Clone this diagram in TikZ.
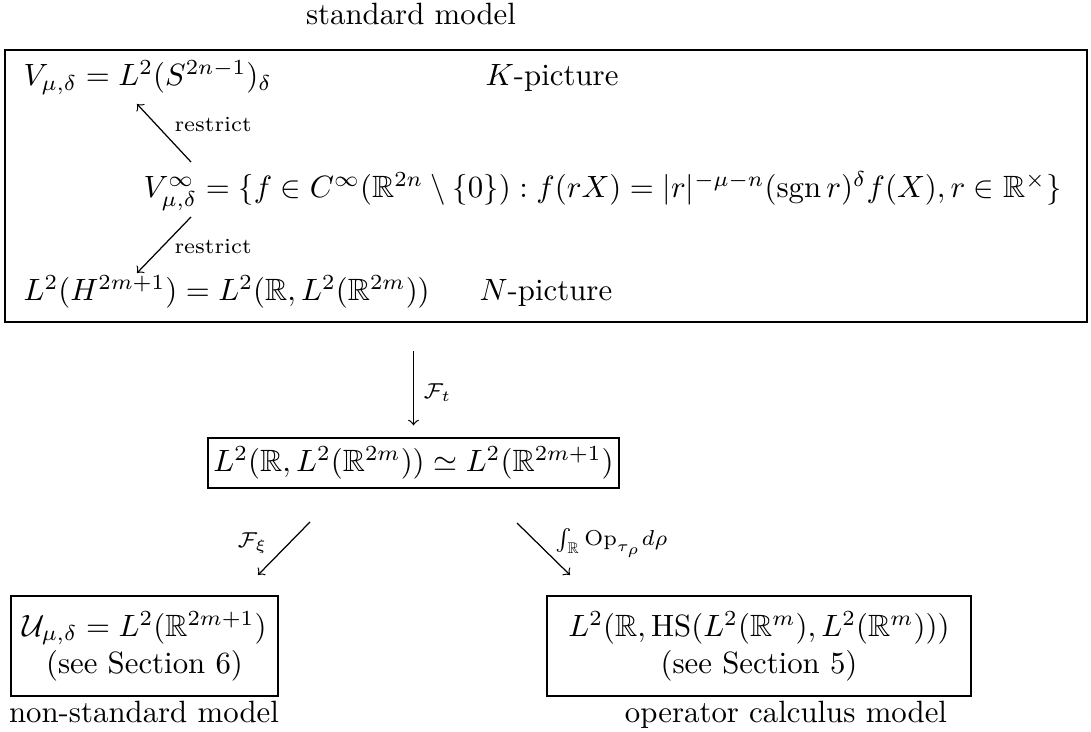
\documentclass[tikz,border=0pt]{standalone}
\usepackage{amsmath,amssymb}
\begin{document}
\begin{tikzpicture}[x=0.32466pt,y=-0.32466pt,
  txt/.style={inner sep=0pt, anchor=base west},
  boxed/.style={draw, inner sep=0pt, align=center},
  lbl/.style={inner sep=0pt, font=\scriptsize},
  arr/.style={->}]
\useasboundingbox (0,0) rectangle (1091,732);
% top label
\node[inner sep=0pt, anchor=base] (std) at (411,25) {standard model};
% big box
\node[draw, inner sep=0pt, minimum width=351.3pt, minimum height=88.3pt] (big) at (546,186) {};
\node[txt] (vk) at (23,86) {$V_{\mu,\delta}=L^2(S^{2n-1})_\delta$};
\node[txt] (kpic) at (485,86) {$K$-picture};
\node[txt] (vinf) at (143,198) {$V^\infty_{\mu,\delta}=\{f\in C^\infty(\mathbb{R}^{2n}\setminus\{0\}):f(rX)=|r|^{-\mu-n}(\operatorname{sgn}r)^\delta f(X), r\in\mathbb{R}^\times\}$};
\node[txt] (lh) at (23,301) {$L^2(H^{2m+1})=L^2(\mathbb{R},L^2(\mathbb{R}^{2m}))$};
\node[txt] (npic) at (479,301) {$N$-picture};
% restrict arrows
\coordinate (r1a) at (191,162);
\coordinate (r1b) at (137,104);
\coordinate (r2a) at (191,217);
\coordinate (r2b) at (137,273);
\draw[arr] (r1a) -- (r1b);
\node[lbl, anchor=west] (rl1) at (174,125) {restrict};
\draw[arr] (r2a) -- (r2b);
\node[lbl, anchor=west] (rl2) at (174,247) {restrict};
% middle box
\node[boxed, minimum width=133.4pt, minimum height=16.2pt] (mid) at (413.5,463)
  {$L^2(\mathbb{R},L^2(\mathbb{R}^{2m}))\simeq L^2(\mathbb{R}^{2m+1})$};
\coordinate (ft) at (413.5,351);
\draw[arr, shorten >=3.9pt] (ft) -- (mid.north);
\node[lbl, anchor=west] (ftl) at (423,393) {$\mathcal{F}_t$};
% bottom boxes
\node[boxed, minimum width=86.7pt, minimum height=32.5pt] (left) at (144.5,646)
  {$\mathcal{U}_{\mu,\delta}=L^2(\mathbb{R}^{2m+1})$\\(see Section 6)};
\node[boxed, minimum width=137.7pt, minimum height=32.5pt] (right) at (759,646)
  {$L^2(\mathbb{R},\mathrm{HS}(L^2(\mathbb{R}^m),L^2(\mathbb{R}^m)))$\\(see Section 5)};
\node[inner sep=0pt, anchor=base] (lname) at (144,722) {non-standard model};
\node[inner sep=0pt, anchor=base] (rname) at (786,722) {operator calculus model};
% lower arrows
\coordinate (fxa) at (310,522);
\coordinate (fxb) at (258,575);
\coordinate (opa) at (517,523);
\coordinate (opb) at (570,575);
\draw[arr] (fxa) -- (fxb);
\node[lbl, anchor=east] (fxl) at (268,543) {$\mathcal{F}_\xi$};
\draw[arr] (opa) -- (opb);
\node[lbl, anchor=west] (opl) at (555,543) {$\int_{\mathbb{R}}\mathrm{Op}_{\tau_\rho}d\rho$};
\end{tikzpicture}
\end{document}
